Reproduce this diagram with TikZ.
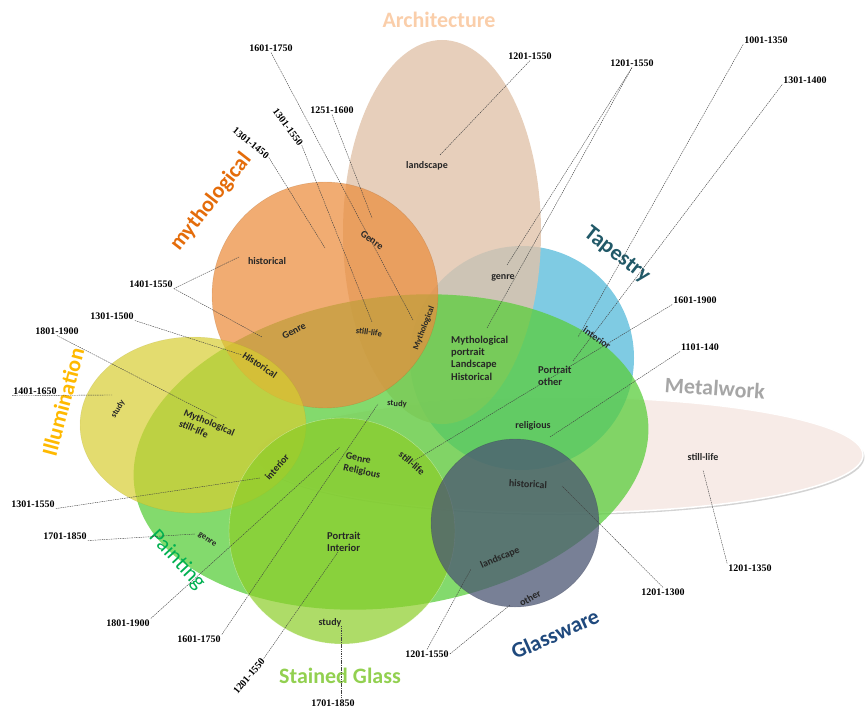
\documentclass[tikz,border=0pt]{standalone}
\usepackage{fontspec}
\setmainfont{Carlito}
\newfontfamily\datefont{Liberation Serif}
\usetikzlibrary{shadows}

\definecolor{archfill}{RGB}{225,195,170}
\definecolor{tapfill}{RGB}{95,190,220}
\definecolor{paintfill}{RGB}{90,205,60}
\definecolor{mythfill}{RGB}{235,140,60}
\definecolor{illumfill}{RGB}{215,205,50}
\definecolor{stainfill}{RGB}{140,205,40}
\definecolor{glassfill}{RGB}{75,85,115}
\definecolor{metalfill}{RGB}{247,235,231}
\definecolor{archtext}{RGB}{250,206,170}
\definecolor{mythtext}{RGB}{228,108,10}
\definecolor{taptext}{RGB}{33,89,104}
\definecolor{metaltext}{RGB}{166,166,166}
\definecolor{illumtext}{RGB}{255,185,0}
\definecolor{painttext}{RGB}{0,176,80}
\definecolor{staintext}{RGB}{146,208,80}
\definecolor{glasstext}{RGB}{31,73,125}

\tikzset{
  areatitle/.style={font=\bfseries\fontsize{22}{24}\selectfont, inner sep=0pt},
  itemlabel/.style={font=\bfseries\fontsize{10}{12}\selectfont, text=black!85, inner sep=1pt},
  smalllabel/.style={font=\bfseries\fontsize{8.5}{10}\selectfont, text=black!85, inner sep=1pt},
  blocklabel/.style={font=\bfseries\fontsize{10.5}{12.3}\selectfont, text=black!85, inner sep=1pt, align=left},
  datelabel/.style={font=\datefont\bfseries\fontsize{10}{12}\selectfont, inner sep=1pt},
  leaderline/.style={dash pattern=on 1.5pt off 0.8pt, line width=0.4pt, black!75}
}

\begin{document}
\begin{tikzpicture}[x=1pt, y=-1pt]
\useasboundingbox (0,0) rectangle (866,711);

% the sets
\fill[metalfill, draw=white, line width=1.5pt, drop shadow={opacity=0.35, shadow xshift=1.5pt, shadow yshift=-2pt}] (560,455) ellipse [x radius=303, y radius=58];
\fill[tapfill, fill opacity=0.8] (522,358) circle [radius=112];
\fill[archfill, fill opacity=0.8] (442,232) ellipse [x radius=99, y radius=192];
\fill[paintfill, fill opacity=0.75, rotate around={8:(391,452)}] (391,452) ellipse [x radius=259, y radius=155];
\fill[mythfill, fill opacity=0.72, draw=mythfill!70!black, draw opacity=0.3] (325,295) circle [radius=113];
\fill[illumfill, fill opacity=0.7, draw=illumfill!70!black, draw opacity=0.2] (193,425) ellipse [x radius=113, y radius=88];
\fill[stainfill, fill opacity=0.7, draw=white, draw opacity=0.4] (342,531) circle [radius=113];
\fill[glassfill, fill opacity=0.75, draw=glassfill!60!black, draw opacity=0.3] (515,523) circle [radius=84];

% titles
\node (architecture) [areatitle, text=archtext] at (439,20) {Architecture};
\node (mythological) [areatitle, text=mythtext, rotate=52] at (211,202) {mythological};
\node (tapestry) [areatitle, text=taptext, rotate=-38] at (617,255) {Tapestry};
\node (metalwork) [areatitle, text=metaltext, rotate=-4] at (715,388) {Metalwork};
\node (illumination) [areatitle, text=illumtext, rotate=75] at (63,402) {Illumination};
\node (painting) [areatitle, font=\fontsize{22}{24}\selectfont, text=painttext, rotate=-47] at (177,560) {Painting};
\node (stainedglass) [areatitle, text=staintext] at (340,676) {Stained Glass};
\node (glassware) [areatitle, text=glasstext, rotate=24] at (555,634) {Glassware};

% labels inside the sets
\node (arch-landscape) [itemlabel] at (427,166) {landscape};
\node (myth-genre) [itemlabel, rotate=-35] at (372,240) {Genre};
\node (myth-historical) [itemlabel] at (267,261) {historical};
\node (tap-genre) [itemlabel] at (503,278) {genre};
\node (myth-genre2) [itemlabel, rotate=28] at (294,331) {Genre};
\node (myth-stilllife) [smalllabel, rotate=-8] at (369,332) {still-life};
\node (myth-myth) [smalllabel, rotate=69] at (424,328) {Mythological};
\node (tap-interior) [itemlabel, rotate=-35] at (597,338) {interior};
\node (myth-hist) [itemlabel, rotate=-34] at (260,365) {Historical};
\node (paint-block) [blocklabel, anchor=west] at (450,358) {Mythological\\portrait\\Landscape\\Historical};
\node (paint-portrait) [blocklabel, anchor=west] at (537,376) {Portrait\\other};
\node (paint-study) [smalllabel, rotate=-3] at (397,404) {study};
\node (paint-religious) [itemlabel] at (533,426) {religious};
\node (illum-study) [smalllabel, rotate=60] at (118,409) {study};
\node (illum-myth) [itemlabel, align=left, rotate=-23] at (207,428) {Mythological\\still-life};
\node (stain-stilllife) [itemlabel, rotate=-41] at (412,463) {still-life};
\node (stain-genre) [itemlabel, align=left, rotate=-12] at (363,466) {Genre\\Religious};
\node (illum-interior) [itemlabel, rotate=49] at (277,467) {interior};
\node (paint-genre) [smalllabel, rotate=-33] at (207,540) {genre};
\node (stain-portrait) [blocklabel, anchor=west] at (326,542) {Portrait\\Interior};
\node (stain-study) [itemlabel] at (330,623) {study};
\node (glass-historical) [itemlabel, rotate=-3] at (528,484) {historical};
\node (glass-landscape) [itemlabel, rotate=24] at (500,558) {landscape};
\node (glass-other) [itemlabel, rotate=30] at (530,598) {other};
\node (metal-stilllife) [itemlabel] at (703,457) {still-life};

% dates
\node (d1) [datelabel] at (271,48) {1601-1750};
\node (d2) [datelabel, rotate=-53] at (288,127) {1301-1550};
\node (d3) [datelabel, rotate=-39] at (251,143) {1301-1450};
\node (d4) [datelabel] at (332,110) {1251-1600};
\node (d5) [datelabel] at (530,56) {1201-1550};
\node (d6) [datelabel] at (632,63) {1201-1550};
\node (d7) [datelabel] at (766,40) {1001-1350};
\node (d8) [datelabel] at (805,80) {1301-1400};
\node (d9) [datelabel] at (695,300) {1601-1900};
\node (d10) [datelabel] at (700,347) {1101-140};
\node (d11) [datelabel] at (151,284) {1401-1550};
\node (d12) [datelabel] at (112,316) {1301-1500};
\node (d13) [datelabel] at (57,331) {1801-1900};
\node (d14) [datelabel] at (35,391) {1401-1650};
\node (d15) [datelabel] at (33,504) {1301-1550};
\node (d16) [datelabel] at (65,536) {1701-1850};
\node (d17) [datelabel] at (128,623) {1801-1900};
\node (d18) [datelabel] at (199,639) {1601-1750};
\node (d19) [datelabel, rotate=50] at (249,676) {1201-1550};
\node (d20) [datelabel] at (333,703) {1701-1850};
\node (d21) [datelabel] at (427,654) {1201-1550};
\node (d22) [datelabel] at (663,592) {1201-1300};
\node (d23) [datelabel] at (750,568) {1201-1350};

% ends of the leader lines
\coordinate (p1) at (413,320);
\coordinate (p2) at (372,322);
\coordinate (p3) at (325,248);
\coordinate (p4) at (372,218);
\coordinate (p5) at (440,155);
\coordinate (p6a) at (507,265);
\coordinate (p6b) at (487,328);
\coordinate (p7) at (578,337);
\coordinate (p8) at (573,361);
\coordinate (p9) at (412,462);
\coordinate (p10) at (550,437);
\coordinate (p11a) at (239,257);
\coordinate (p11b) at (262,337);
\coordinate (p12) at (242,355);
\coordinate (p13) at (217,418);
\coordinate (p14) at (112,395);
\coordinate (p15) at (260,478);
\coordinate (p16) at (195,534);
\coordinate (p17) at (340,447);
\coordinate (p18) at (378,404);
\coordinate (p19) at (338,552);
\coordinate (p20) at (341,625);
\coordinate (p21a) at (471,569);
\coordinate (p21b) at (510,605);
\coordinate (p22) at (562,486);
\coordinate (p23) at (703,470);

\draw[leaderline] (d1.south) -- (p1);
\draw[leaderline] (d2.east) -- (p2);
\draw[leaderline] (d3.east) -- (p3);
\draw[leaderline] (d4.south) -- (p4);
\draw[leaderline] (d5.south) -- (p5);
\draw[leaderline] (d6.south) -- (p6a);
\draw[leaderline] (d6.south) -- (p6b);
\draw[leaderline] (d7.south west) -- (p7);
\draw[leaderline] (d8.south west) -- (p8);
\draw[leaderline] (d9.south west) -- (p9);
\draw[leaderline] (d10.south west) -- (p10);
\draw[leaderline] (d11.south east) -- (p11a);
\draw[leaderline] (d11.south east) -- (p11b);
\draw[leaderline] (d12.south east) -- (p12);
\draw[leaderline] (d13.south) -- (p13);
\draw[leaderline] (d14.south west) -- (p14);
\draw[leaderline] (d15.south east) -- (p15);
\draw[leaderline] (d16.south east) -- (p16);
\draw[leaderline] (d17.north east) -- (p17);
\draw[leaderline] (d18.north east) -- (p18);
\draw[leaderline] (d19.east) -- (p19);
\draw[leaderline] ([xshift=8pt]d20.north) -- (p20);
\draw[leaderline] (d21.north) -- (p21a);
\draw[leaderline] (d21.east) -- (p21b);
\draw[leaderline] (d22.north) -- (p22);
\draw[leaderline] (d23.north west) -- (p23);

\end{tikzpicture}
\end{document}
